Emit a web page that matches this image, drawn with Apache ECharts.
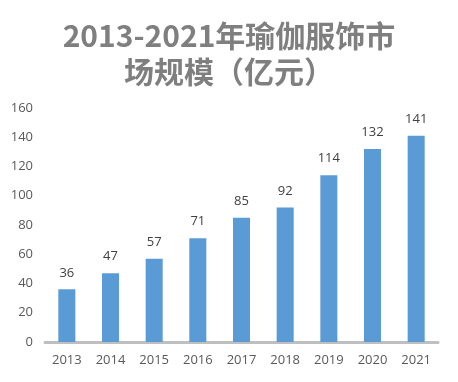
<!DOCTYPE html>
<html><head><meta charset="utf-8">
<script src="https://cdn.jsdelivr.net/npm/echarts@6/dist/echarts.min.js"></script>
<style>html,body{margin:0;padding:0;background:#fff}#c{width:458px;height:382px}</style>
</head><body><div id="c"></div>
<script>
const categories = ['2013','2014','2015','2016','2017','2018','2019','2020','2021'];
const values = [36,47,57,71,85,92,114,132,141];
const yTicks = [0,20,40,60,80,100,120,140,160];
const titleText = '2013-2021年瑜伽服饰市\n场规模（亿元）';

const chart = echarts.init(document.getElementById('c'));
chart.setOption({
  animation: false,
  title: {
    text: titleText, left: 224, top: 13, textAlign: 'center',
    textStyle: {color: '#7f7f7f', fontSize: 30, fontWeight: 'bold', fontFamily: 'Noto Sans CJK SC', lineHeight: 36}
  },
  grid: {left: 45, right: 20, top: 108, bottom: 40},
  xAxis: {
    type: 'category', data: categories,
    axisLine: {lineStyle: {color: '#bfbfbf', width: 3}},
    axisTick: {show: false},
    axisLabel: {color: '#595959', fontSize: 13, fontFamily: 'Open Sans', margin: 12}
  },
  yAxis: {
    type: 'value', min: yTicks[0], max: yTicks[yTicks.length-1], interval: 20,
    axisLine: {show: false}, axisTick: {show: false}, splitLine: {show: false},
    axisLabel: {color: '#595959', fontSize: 13, fontFamily: 'Open Sans', margin: 12}
  },
  series: [{
    type: 'bar', data: values, barWidth: '39%',
    itemStyle: {color: '#5b9bd5'},
    label: {show: true, position: 'top', color: '#404040', fontSize: 13, fontFamily: 'Open Sans', distance: 10}
  }]
});
</script></body></html>
